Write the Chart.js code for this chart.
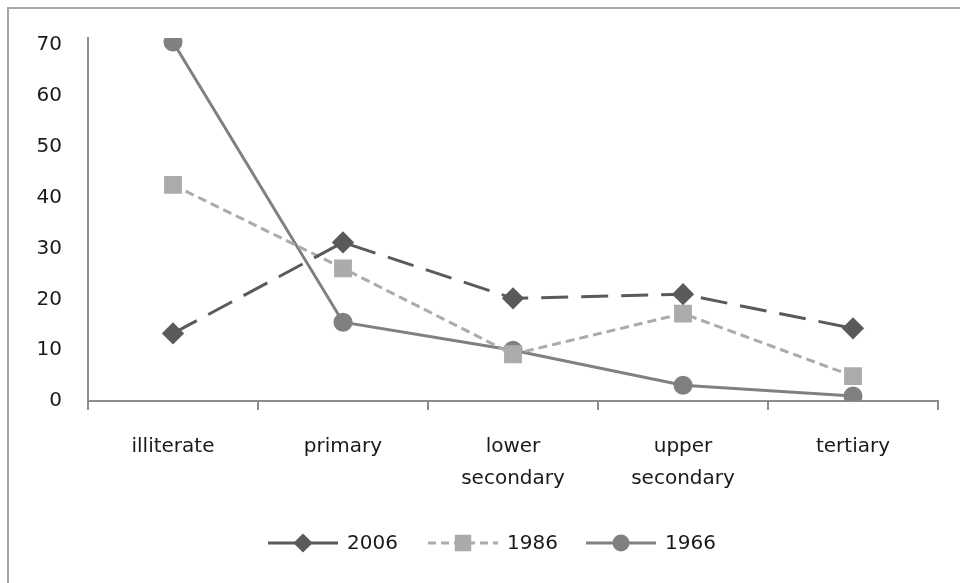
<!DOCTYPE html>
<html>
<head>
<meta charset="utf-8">
<script src="https://cdn.jsdelivr.net/npm/chart.js@4.4.1/dist/chart.umd.min.js"></script>
<style>
  html, body { margin: 0; padding: 0; background: #fff; overflow: hidden; }
  #wrap { position: relative; width: 960px; height: 583px; }
  #frame { position: absolute; left: 7px; top: 7px; width: 1000px; height: 700px;
           border-top: 2px solid #a6a6a6; border-left: 2px solid #a6a6a6; pointer-events: none; }
  canvas { position: absolute; left: 0; top: 0; }
</style>
</head>
<body>
<div id="wrap">
  <canvas id="chart" width="960" height="583"></canvas>
  <div id="frame"></div>
</div>
<script>
const categories = ['illiterate', 'primary', ['lower', 'secondary'], ['upper', 'secondary'], 'tertiary'];
const years = ['2006', '1986', '1966'];
const values2006 = [13.3, 31.2, 20.2, 21.0, 14.3];
const values1986 = [42.5, 26.1, 9.2, 17.2, 4.9];
const values1966 = [70.6, 15.5, 10.0, 3.1, 1.0];
const yTicks = [0, 10, 20, 30, 40, 50, 60, 70];

const FONT = '"DejaVu Sans", sans-serif';
const FONT_SIZE = 20;

// legend drawn by hand: line + marker like the office-style legend
const lineLegend = {
  id: 'lineLegend',
  afterDraw(chart) {
    const ctx = chart.ctx;
    const y = 543;
    const xs = [268, 428, 586];
    chart.data.datasets.forEach((ds, i) => {
      const x = xs[i];
      ctx.save();
      ctx.strokeStyle = ds.borderColor;
      ctx.lineWidth = 3;
      ctx.setLineDash(i === 1 ? [8, 5] : []);
      ctx.beginPath();
      ctx.moveTo(x, y);
      ctx.lineTo(x + 70, y);
      ctx.stroke();
      ctx.setLineDash([]);
      ctx.fillStyle = ds.pointBackgroundColor;
      ctx.strokeStyle = ds.pointBorderColor;
      Chart.helpers.drawPoint(ctx, {
        pointStyle: ds.pointStyle,
        radius: ds.legendRadius,
        borderWidth: 1
      }, x + 35, y);
      ctx.restore();
      ctx.save();
      ctx.fillStyle = '#1a1a1a';
      ctx.font = FONT_SIZE + 'px ' + FONT;
      ctx.textBaseline = 'middle';
      ctx.fillText(ds.label, x + 79, y + 1);
      ctx.restore();
    });
  }
};

new Chart(document.getElementById('chart'), {
  type: 'line',
  data: {
    labels: categories,
    datasets: [
      {
        label: years[0],
        data: values2006,
        borderColor: '#5a5a5a',
        backgroundColor: '#5a5a5a',
        pointBackgroundColor: '#5a5a5a',
        pointBorderColor: '#5a5a5a',
        borderWidth: 3,
        borderDash: [27, 13],
        pointStyle: 'rectRot',
        pointRadius: 9,
        legendRadius: 7.5
      },
      {
        label: years[1],
        data: values1986,
        borderColor: '#ababab',
        backgroundColor: '#ababab',
        pointBackgroundColor: '#ababab',
        pointBorderColor: '#ababab',
        borderWidth: 3,
        borderDash: [9, 5],
        pointStyle: 'rect',
        pointRadius: 10.5,
        legendRadius: 9.5
      },
      {
        label: years[2],
        data: values1966,
        borderColor: '#808080',
        backgroundColor: '#808080',
        pointBackgroundColor: '#808080',
        pointBorderColor: '#808080',
        borderWidth: 3,
        pointStyle: 'circle',
        pointRadius: 8,
        legendRadius: 7
      }
    ]
  },
  options: {
    responsive: false,
    animation: false,
    layout: { padding: { left: 0, right: 22, top: 37, bottom: 0 } },
    plugins: {
      legend: { display: false },
      tooltip: { enabled: false }
    },
    scales: {
      x: {
        offset: true,
        grid: { display: true, offset: true, drawOnChartArea: false, drawTicks: true, tickLength: 9, color: '#8c8c8c', lineWidth: 2 },
        border: { color: '#8c8c8c', width: 2 },
        ticks: { color: '#1a1a1a', font: { size: FONT_SIZE, family: FONT, lineHeight: 1.6 }, padding: 21, maxRotation: 0, autoSkip: false },
        afterFit(scale) { scale.height = 583 - 401; }
      },
      y: {
        min: 0,
        max: 71.4,
        grid: { display: false, drawTicks: false },
        border: { color: '#8c8c8c', width: 2 },
        ticks: { stepSize: 10, includeBounds: false, color: '#1a1a1a', font: { size: FONT_SIZE, family: FONT }, padding: 26 },
        afterBuildTicks(scale) { scale.ticks = yTicks.map(v => ({ value: v })); },
        afterFit(scale) { scale.width = 88; }
      }
    }
  },
  plugins: [lineLegend]
});
</script>
</body>
</html>
